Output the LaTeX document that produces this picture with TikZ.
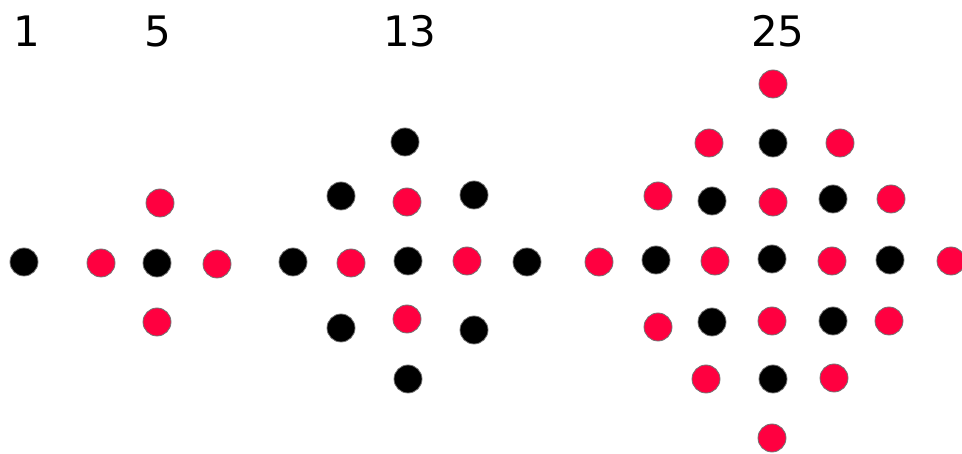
\documentclass[tikz,border=0pt]{standalone}
\usepackage{fontspec}
\setmainfont{DejaVu Sans}
\definecolor{dotred}{RGB}{255,0,64}
\tikzset{
  reddot/.style={fill=dotred, draw=black!55, line width=0.8pt},
  blackdot/.style={fill=black, draw=black!55, line width=0.8pt},
  numlabel/.style={font=\fontsize{42}{42}\selectfont, inner sep=0pt}
}
\begin{document}
\begin{tikzpicture}[x=1pt,y=-1pt]
  \useasboundingbox (0,0) rectangle (962,454);
  % counts above each figure
  \node[numlabel] (one) at (27,31) {1};
  \node[numlabel] (five) at (158,31) {5};
  \node[numlabel] (thirteen) at (410,31) {13};
  \node[numlabel] (twentyfive) at (778,31) {25};
  % black dots
  \foreach \x/\y in {24/262, 157/263,
      405/142, 341/196, 474/195, 293/262, 408/261, 527/262, 341/328, 474/330, 408/379,
      773/143, 712/201, 833/199, 656/260, 772/259, 890/260, 712/322, 833/321, 773/379} {
    \draw[blackdot] (\x,\y) circle (14pt);
  }
  % red dots
  \foreach \x/\y in {160/203, 101/263, 217/264, 157/322,
      407/202, 351/263, 467/261, 407/319,
      773/84, 709/143, 840/143, 658/196, 773/202, 891/199, 599/262, 715/261,
      832/261, 951/261, 658/327, 772/321, 889/321, 706/379, 834/378, 772/438} {
    \draw[reddot] (\x,\y) circle (14pt);
  }
\end{tikzpicture}
\end{document}
